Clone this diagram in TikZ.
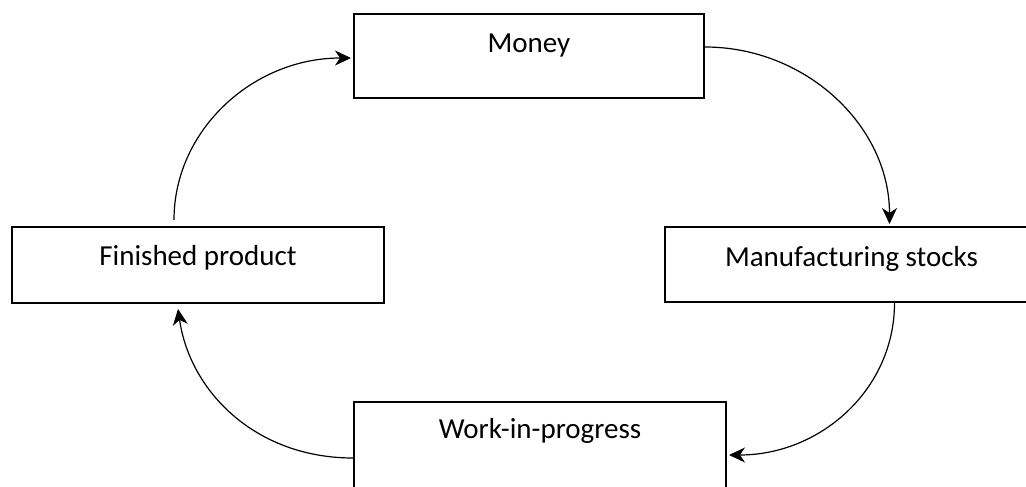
\documentclass[tikz,border=0pt]{standalone}
\usepackage{fontspec}
\setmainfont{Carlito}
\usetikzlibrary{arrows.meta}
\begin{document}
\begin{tikzpicture}[x=1pt,y=-1pt,
  box/.style={draw=black, line width=2pt, inner sep=0pt, anchor=north west,
    font=\fontsize{29}{33}\selectfont, minimum width=#1},
  flow/.style={line width=1.2pt, -{Stealth[length=16pt,width=15pt,inset=5pt]}}]
\useasboundingbox (0,0) rectangle (1026,487);
\clip (0,0) rectangle (1026,487);
\node[box=350pt, text height=39pt, text depth=45pt] (money) at (353,13) {Money};
\node[box=372pt, text height=38pt, text depth=38pt] (fin) at (11,226) {Finished product};
\node[box=373pt, text height=39pt, text depth=36pt] (manu) at (664,226) {Manufacturing stocks};
\node[box=372pt, text height=36pt, text depth=55pt] (wip) at (353,401) {Work-in-progress};
\draw[flow] ([yshift=9pt]money.east) .. controls +(101,0) and +(0,-98) .. ([xshift=38pt,yshift=2pt]manu.north);
\draw[flow] ([xshift=43pt]manu.south) .. controls +(0,86) and +(92,0) .. ([xshift=2pt,yshift=-54pt]wip.north east);
\draw[flow] ([yshift=-57pt]wip.north west) .. controls +(-97,0) and +(12,83) .. ([xshift=-20pt,yshift=-5pt]fin.south);
\draw[flow] ([xshift=-24pt,yshift=6pt]fin.north) .. controls +(0,-90) and +(-98,0) .. ([xshift=-2pt,yshift=-2pt]money.west);
\end{tikzpicture}
\end{document}
